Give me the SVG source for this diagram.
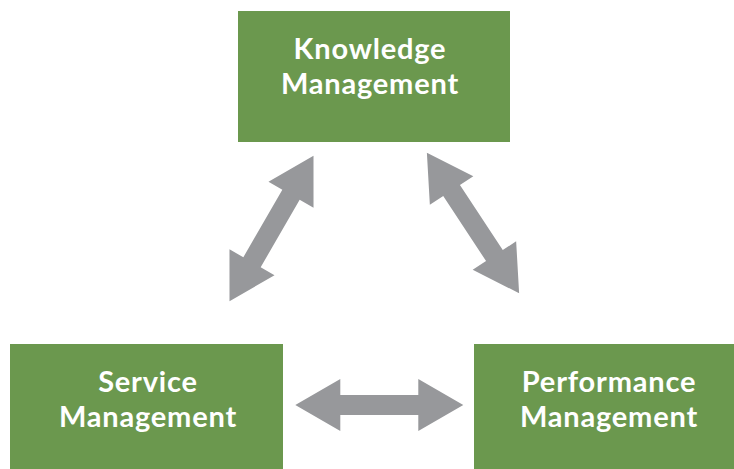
<svg xmlns="http://www.w3.org/2000/svg" xmlns:xlink="http://www.w3.org/1999/xlink" width="734" height="469" viewBox="0 0 734 469">
  <style>
    .box { fill: #6b984e; }
    .label { font-family: "Lato", "Liberation Sans", sans-serif; font-weight: 700; font-size: 29px; letter-spacing: 0.8px; fill: #ffffff; text-anchor: middle; }
    .arrow { fill: #97989b; }
  </style>
  <defs>
    <!-- double-headed block arrow, centred on the origin, pointing along x -->
    <polygon id="dblArrow" points="-84,0 -39,-26 -39,-10 39,-10 39,-26 84,0 39,26 39,10 -39,10 -39,26"/>
  </defs>
  <rect width="734" height="469" fill="#ffffff"/>

  <g id="knowledge">
    <rect class="box" x="238" y="11" width="272" height="131"/>
    <text class="label" x="370" y="59">Knowledge</text>
    <text class="label" x="370" y="94">Management</text>
  </g>

  <g id="service">
    <rect class="box" x="10" y="344" width="273" height="125"/>
    <text class="label" x="148" y="392">Service</text>
    <text class="label" x="148" y="427">Management</text>
  </g>

  <g id="performance">
    <rect class="box" x="474" y="344" width="272" height="125"/>
    <text class="label" x="609" y="392">Performance</text>
    <text class="label" x="609" y="427">Management</text>
  </g>

  <g id="connectors" class="arrow">
    <use xlink:href="#dblArrow" transform="translate(271.5 228.5) rotate(-60)"/>
    <use xlink:href="#dblArrow" transform="translate(473 223) rotate(56.7)"/>
    <use xlink:href="#dblArrow" transform="translate(379.3 405)"/>
  </g>
</svg>
